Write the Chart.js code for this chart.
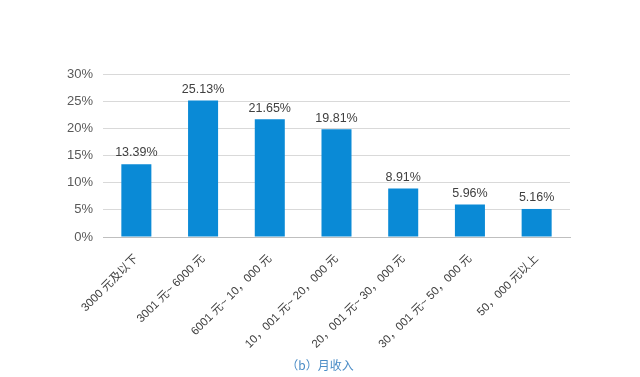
<!DOCTYPE html>
<html><head><meta charset="utf-8">
<script src="https://cdn.jsdelivr.net/npm/chart.js@4/dist/chart.umd.min.js"></script>
<style>
html,body{margin:0;padding:0;background:#fff;}
#wrap{position:relative;width:640px;height:377px;}
#caption{position:absolute;left:0;width:640px;top:356px;text-align:center;font-family:"Noto Sans CJK SC","Liberation Sans",sans-serif;font-size:12px;color:#4a8cc6;}
</style></head>
<body><div id="wrap"><canvas id="c" width="640" height="377"></canvas><div id="caption">（b）月收入</div></div>
<script>
const categories = ["3000 元及以下","3001 元~ 6000 元","6001 元~ 10，000 元","10，001 元~ 20，000 元","20，001 元~ 30，000 元","30，001 元~ 50，000 元","50，000 元以上"];
const values = [13.39, 25.13, 21.65, 19.81, 8.91, 5.96, 5.16];
const yTicks = [0,5,10,15,20,25,30];
const FONT = '"Liberation Sans","Noto Sans CJK SC",sans-serif';

const labelPlugin = {
  id:'vals',
  afterDatasetsDraw(chart){
    const ctx = chart.ctx;
    const meta = chart.getDatasetMeta(0);
    ctx.save();
    ctx.font = '12.5px ' + FONT;
    ctx.fillStyle = '#404040';
    ctx.textAlign = 'center';
    ctx.textBaseline = 'bottom';
    meta.data.forEach((bar,i)=>{
      ctx.fillText(values[i].toFixed(2)+'%', bar.x, bar.y - 5);
    });
    ctx.restore();
  }
};

new Chart(document.getElementById('c'), {
  type:'bar',
  data:{labels:categories, datasets:[{data:values, backgroundColor:'#0a8ad6', barPercentage:0.45, categoryPercentage:1}]},
  options:{
    responsive:false, animation:false,
    layout:{padding:{left:0,right:70,top:74,bottom:20}},
    plugins:{legend:{display:false}, tooltip:{enabled:false}},
    scales:{
      y:{min:0,max:30,
        afterFit(s){s.width=103;},
        afterBuildTicks(s){s.ticks=yTicks.map(v=>({value:v}));},
        ticks:{callback:v=>v+'%', color:'#595959', font:{size:13,family:FONT}, padding:10},
        grid:{color:'#d9d9d9', drawTicks:false},
        border:{display:false}
      },
      x:{
        afterFit(s){s.height=120;},
        ticks:{minRotation:45,maxRotation:45,color:'#404040',font:{size:11.5,family:FONT},padding:15, autoSkip:false},
        grid:{display:false, drawTicks:false},
        border:{color:'#bfbfbf'}
      }
    }
  },
  plugins:[labelPlugin]
});
</script></body></html>
